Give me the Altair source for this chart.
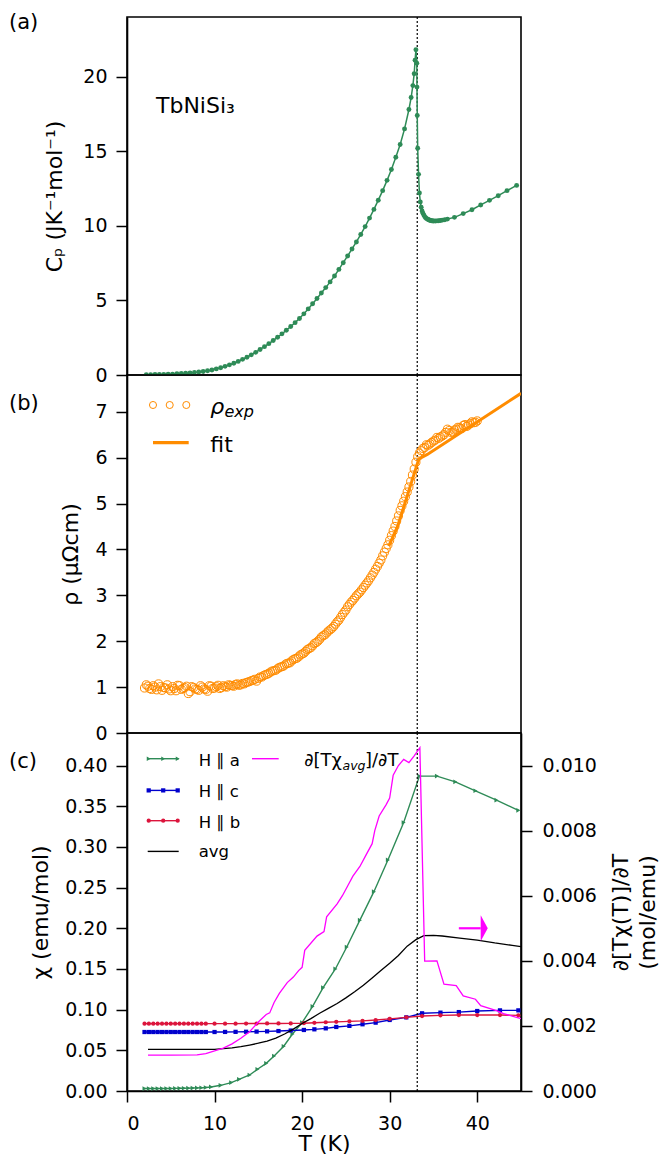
import altair as alt
import pandas as pd

FONT = "DejaVu Sans"
GREEN = "#2e8b57"
ORANGE = "#ff8c00"
BLUE = "#0000cd"
RED = "#dc143c"
MAG = "#ff00ff"
W, H = 394, 358

# ---------------- data ----------------
TN = [33.15]

cp_T = [2.2, 2.7, 3.2, 3.7, 4.2, 4.7, 5.2, 5.7, 6.2, 6.7, 7.2, 7.7, 8.2, 8.7, 9.2, 9.7,
        10.2, 10.7, 11.2, 11.7, 12.2, 12.7, 13.2, 13.7, 14.2, 14.7, 15.2, 15.7, 16.2, 16.7,
        17.2, 17.7, 18.2, 18.7, 19.2, 19.7, 20.2, 20.7, 21.2, 21.7, 22.2, 22.7, 23.2, 23.7,
        24.2, 24.7, 25.2, 25.7, 26.2, 26.7, 27.2, 27.7, 28.2, 28.7, 29.2, 29.7, 30.2, 30.7,
        31.2, 31.7, 32.2, 32.45, 32.65, 32.8, 32.9, 33.0,
        33.1, 33.12, 33.15, 33.2, 33.3, 33.4, 33.5, 33.6, 33.7, 33.8, 33.9, 34.0, 34.1,
        34.2, 34.3, 34.4, 34.5, 34.6, 34.7, 34.8, 34.9, 35.0, 35.2, 35.4, 35.6, 35.8,
        36.0, 36.3, 36.6, 37.4, 38.4, 39.4, 40.4, 41.4, 42.4, 43.4, 44.5]
cp_val = [0.02, 0.02, 0.03, 0.03, 0.04, 0.05, 0.06, 0.08, 0.10, 0.12, 0.14, 0.17, 0.20, 0.23, 0.28, 0.34,
          0.41, 0.49, 0.58, 0.68, 0.79, 0.91, 1.05, 1.19, 1.35, 1.52, 1.71, 1.90, 2.10, 2.31,
          2.53, 2.76, 3.00, 3.25, 3.51, 3.79, 4.10, 4.43, 4.78, 5.13, 5.50, 5.86, 6.24, 6.64,
          7.08, 7.53, 7.98, 8.45, 8.92, 9.42, 9.95, 10.52, 11.10, 11.72, 12.36, 13.05, 13.78, 14.60,
          15.45, 16.50, 17.80, 18.60, 19.40, 20.20, 21.10, 21.80,
          20.90, 19.30, 17.40, 15.20, 13.45, 12.20, 11.60, 11.25, 11.00, 10.85, 10.72, 10.62, 10.55,
          10.50, 10.45, 10.42, 10.39, 10.37, 10.35, 10.34, 10.33, 10.32, 10.32, 10.33, 10.34, 10.36,
          10.38, 10.41, 10.45, 10.57, 10.82, 11.08, 11.40, 11.71, 12.02, 12.36, 12.71]

rho_T = [2.0, 2.4, 2.8, 3.2, 3.6, 4.0, 4.4, 4.8, 5.2, 5.6, 6.0, 6.4, 6.8, 7.2, 7.6, 8.0,
         8.4, 8.8, 9.2, 9.6, 10.0, 10.4, 10.8, 11.2, 11.6, 12.0, 12.4, 12.8, 13.2, 13.6,
         14.0, 14.4, 14.8, 15.2, 15.6, 16.0, 16.4, 16.8, 17.2, 17.6, 18.0, 18.4, 18.8, 19.2,
         19.6, 20.0, 20.4, 20.8, 21.2, 21.6, 22.0, 22.4, 22.8, 23.2, 23.6, 24.0, 24.4, 24.8,
         25.2, 25.6, 26.0, 26.4, 26.8, 27.2, 27.6, 28.0, 28.4, 28.8, 29.2, 29.6, 30.0, 30.4,
         30.8, 31.2, 31.6, 32.0, 32.4, 32.8, 33.2, 33.6, 34.0, 34.4, 34.8, 35.2, 35.6, 36.0,
         36.4, 36.8, 37.2, 37.6, 38.0, 38.4, 38.8, 39.2, 39.6, 40.0]
rho_val = [0.98, 1.02, 0.95, 1.00, 1.07, 0.93, 0.98, 0.96, 1.01, 0.92, 1.03, 0.97, 1.02, 0.90, 0.99, 0.95,
           1.03, 0.96, 0.91, 1.02, 0.98, 1.04, 0.99, 1.01, 1.05, 1.03, 1.06, 1.04, 1.08, 1.10,
           1.12, 1.15, 1.13, 1.22, 1.25, 1.28, 1.33, 1.36, 1.40, 1.44, 1.48, 1.52, 1.57, 1.62,
           1.66, 1.72, 1.78, 1.84, 1.90, 1.97, 2.04, 2.12, 2.18, 2.25, 2.32, 2.42, 2.52, 2.63,
           2.75, 2.85, 2.94, 3.03, 3.12, 3.22, 3.32, 3.44, 3.57, 3.70, 3.86, 4.02, 4.20, 4.40,
           4.62, 4.85, 5.05, 5.25, 5.48, 5.75, 6.02, 6.15, 6.22, 6.27, 6.33, 6.38, 6.42, 6.47,
           6.55, 6.59, 6.56, 6.62, 6.65, 6.70, 6.68, 6.74, 6.76, 6.80]
rho_T_b = [2.2, 2.6, 3.0, 3.4, 3.8, 4.2, 4.6, 5.0, 5.4, 5.8, 6.2, 6.6, 7.0, 7.4, 7.8, 8.2,
           8.6, 9.0, 9.4, 9.8, 10.2, 10.6, 11.0, 11.4, 11.8, 12.2, 12.6, 13.0, 13.4, 13.8,
           14.2, 14.6, 15.0, 15.4, 15.8, 16.2, 16.6, 17.0, 17.4, 17.8, 18.2, 18.6, 19.0, 19.4,
           19.8, 20.2, 20.6, 21.0, 21.4, 21.8, 22.2, 22.6, 23.0, 23.4, 23.8, 24.2, 24.6, 25.0,
           25.4, 25.8, 26.2, 26.6, 27.0, 27.4, 27.8, 28.2, 28.6, 29.0, 29.4, 29.8, 30.2, 30.6,
           31.0, 31.4, 31.8, 32.2, 32.6, 33.0, 33.4, 33.8, 34.2, 34.6, 35.0, 35.4, 35.8, 36.2,
           36.6, 37.0, 37.4, 37.8, 38.2, 38.6, 39.0, 39.4, 39.8]
rho_val_b = [1.05, 0.97, 1.03, 0.94, 1.01, 0.99, 1.05, 0.92, 0.97, 1.04, 0.95, 0.99, 0.86, 1.01, 0.96, 0.93,
             1.00, 0.95, 1.03, 0.97, 1.01, 0.97, 1.03, 1.00, 1.04, 1.02, 1.07, 1.05, 1.07, 1.11,
             1.14, 1.17, 1.19, 1.22, 1.27, 1.30, 1.35, 1.37, 1.43, 1.45, 1.51, 1.53, 1.60, 1.63,
             1.70, 1.74, 1.82, 1.86, 1.95, 2.00, 2.09, 2.14, 2.22, 2.28, 2.37, 2.46, 2.58, 2.68,
             2.80, 2.89, 2.99, 3.07, 3.17, 3.27, 3.38, 3.50, 3.63, 3.77, 3.94, 4.10, 4.30, 4.50,
             4.73, 4.95, 5.15, 5.36, 5.62, 5.90, 6.10, 6.20, 6.28, 6.30, 6.36, 6.44, 6.45, 6.50,
             6.62, 6.55, 6.60, 6.66, 6.63, 6.72, 6.71, 6.78, 6.77]

fit_T = [29.9, 30.9, 32.0, 32.95, 33.33, 34.3, 45.0]
fit_val = [4.07, 4.50, 5.16, 5.74, 5.97, 6.07, 7.40]

chi_a_T = [2.0, 2.5, 3.0, 3.5, 4.0, 4.5, 5.0, 5.5, 6.0, 6.5, 7.0, 7.5, 8.0, 8.5, 9.0, 9.6,
           10.7, 11.9, 12.8, 14.0, 14.9, 15.9, 16.8, 17.9, 18.9, 20.0, 21.2, 22.4, 23.8,
           25.1, 26.6, 28.2, 29.8, 31.6, 33.4, 35.4, 37.5, 39.8, 42.2, 44.7]
chi_a = [0.0030, 0.0030, 0.0030, 0.0030, 0.0030, 0.0031, 0.0031, 0.0032, 0.0033, 0.0034, 0.0035,
         0.0036, 0.0038, 0.0040, 0.0043, 0.0050, 0.0070, 0.0103, 0.0144, 0.0197, 0.0267, 0.0340,
         0.0430, 0.0550, 0.0700, 0.0840, 0.1040, 0.1270, 0.1500, 0.1770, 0.2100, 0.2450, 0.2840,
         0.3300, 0.3870, 0.3870, 0.3800, 0.3690, 0.3575, 0.3450]

chi_cb_T = [2.0, 2.5, 3.0, 3.5, 4.0, 4.5, 5.0, 5.5, 6.0, 6.5, 7.0, 7.5, 8.0, 8.5, 9.0,
            10.0, 11.2, 12.4, 13.6, 14.8, 16.0, 17.3, 18.7, 20.2, 21.4, 22.7, 23.9, 25.4,
            26.9, 28.4, 30.0, 31.9, 33.7, 35.8, 37.9, 40.0, 42.6, 44.7]
chi_c = [0.0725, 0.0725, 0.0725, 0.0725, 0.0725, 0.0725, 0.0725, 0.0725, 0.0725, 0.0725, 0.0725,
         0.0725, 0.0725, 0.0725, 0.0725, 0.0725, 0.0726, 0.0727, 0.0728, 0.0730, 0.0733, 0.0737,
         0.0743, 0.0750, 0.0758, 0.0770, 0.0787, 0.0800, 0.0820, 0.0840, 0.0873, 0.0905, 0.0955,
         0.0963, 0.0970, 0.0983, 0.0991, 0.0991]
chi_b = [0.0828, 0.0828, 0.0828, 0.0828, 0.0828, 0.0828, 0.0828, 0.0828, 0.0828, 0.0828, 0.0828,
         0.0828, 0.0828, 0.0828, 0.0828, 0.0828, 0.0828, 0.0828, 0.0829, 0.0829, 0.0830, 0.0830,
         0.0831, 0.0833, 0.0838, 0.0845, 0.0850, 0.0856, 0.0862, 0.0872, 0.0887, 0.0905, 0.0921,
         0.0930, 0.0934, 0.0934, 0.0934, 0.0930]

avg_T = [2.4, 4.0, 6.0, 8.0, 10.0, 11.0, 12.0, 13.0, 14.0, 15.0, 16.0, 17.0, 18.0, 19.0, 20.0,
         21.0, 22.0, 23.0, 24.0, 25.0, 26.0, 27.0, 28.0, 29.0, 30.0, 31.0, 32.0, 33.0, 33.9,
         35.0, 36.0, 38.0, 40.0, 42.0, 44.0, 45.0]
avg = [0.0512, 0.0512, 0.0512, 0.0512, 0.0512, 0.0520, 0.0530, 0.0545, 0.0565, 0.0587, 0.0614,
       0.0650, 0.0700, 0.0760, 0.0830, 0.0890, 0.0955, 0.1015, 0.1075, 0.1145, 0.1220, 0.1300,
       0.1390, 0.1480, 0.1570, 0.1665, 0.1780, 0.1860, 0.1910, 0.1912, 0.1905, 0.1880, 0.1855,
       0.1820, 0.1790, 0.1775]

dchi_T = [2.4, 5.0, 8.0, 9.0, 10.0, 11.0, 12.0, 13.0, 14.0, 15.0, 15.9, 16.3, 16.8, 17.4, 18.3,
          19.0, 19.6, 20.0, 20.3, 21.7, 22.5, 22.8, 24.0, 24.6, 25.2, 25.8, 26.6, 27.2, 28.0,
          28.3, 28.8, 29.6, 30.0, 30.4, 31.0, 31.6, 32.2, 32.8, 33.45, 34.0, 35.4, 36.2, 37.6,
          38.4, 39.8, 40.4, 42.2, 43.0, 45.0]
dchi = [0.00110, 0.00110, 0.00111, 0.00115, 0.00123, 0.00132, 0.00145, 0.00162, 0.00182, 0.00212,
        0.00235, 0.00240, 0.00272, 0.00300, 0.00333, 0.00350, 0.00370, 0.00380, 0.00432, 0.00476,
        0.00490, 0.00535, 0.00575, 0.00600, 0.00630, 0.00660, 0.00690, 0.00720, 0.00760, 0.00800,
        0.00845, 0.00880, 0.00900, 0.00970, 0.01000, 0.01019, 0.01009, 0.01030, 0.01055, 0.00399,
        0.00400, 0.00328, 0.00324, 0.00292, 0.00282, 0.00262, 0.00247, 0.00238, 0.00222]

arrow_T0 = [37.9]
arrow_T1 = [40.4]
arrow_head_T = [40.8]
arrow_y = [0.2]

# ---------------- frames ----------------
cp_df = pd.DataFrame({"T": cp_T, "v": cp_val})
rho_df = pd.DataFrame({"T": rho_T + rho_T_b, "v": rho_val + rho_val_b})
fit_df = pd.DataFrame({"T": fit_T, "v": fit_val})
a_df = pd.DataFrame({"T": chi_a_T, "v": chi_a})
c_df = pd.DataFrame({"T": chi_cb_T, "v": chi_c})
b_df = pd.DataFrame({"T": chi_cb_T, "v": chi_b})
avg_df = pd.DataFrame({"T": avg_T, "v": avg})
d_df = pd.DataFrame({"T": dchi_T, "d": dchi})
tn_df = pd.DataFrame({"T": TN})
arr_df = pd.DataFrame({"T": arrow_T0, "T2": arrow_T1, "v": arrow_y})
head_df = pd.DataFrame({"T": arrow_head_T, "v": arrow_y})
one = pd.DataFrame({"z": [0]})

xs = alt.Scale(domain=[0, 45], nice=False, zero=False)


def X(axis=None):
    return alt.X("T:Q", scale=xs, axis=axis)


def txt(s, x, y, size=16.5, align="left", baseline="alphabetic", style="normal", color="black"):
    return alt.Chart(one).mark_text(text=s, font=FONT, fontSize=size, align=align,
                                    baseline=baseline, fontStyle=style, color=color).encode(
        x=alt.value(x), y=alt.value(y))


def tn_rule(axis=None):
    return alt.Chart(tn_df).mark_rule(color="black", strokeDash=[2, 2], strokeWidth=1.2).encode(x=X(axis))


# ---------------- panel (a) ----------------
ya = alt.Y("v:Q", scale=alt.Scale(domain=[0, 24], nice=False),
           axis=alt.Axis(values=[0, 5, 10, 15, 20], format="d", title="Cₚ (JK⁻¹mol⁻¹)", titlePadding=16))
cp_line = alt.Chart(cp_df).mark_line(
    color=GREEN, strokeWidth=1.5, clip=True,
    point=alt.OverlayMarkDef(filled=True, size=24, color=GREEN, opacity=1)
).encode(x=X(), y=ya)
panel_a = alt.layer(
    tn_rule(), cp_line,
    txt("(a)", -118, 6, size=21, baseline="middle"),
    txt("TbNiSi₃", 29, 96, size=22),
).properties(width=W, height=H)

# ---------------- panel (b) ----------------
yb = alt.Y("v:Q", scale=alt.Scale(domain=[0, 7.8], nice=False),
           axis=alt.Axis(values=[0, 1, 2, 3, 4, 5, 6, 7], format="d", title="ρ (μΩcm)", titlePadding=12))
rho_pts = alt.Chart(rho_df).mark_point(shape="circle", filled=False, color=ORANGE, size=66,
                                       strokeWidth=1, opacity=1, clip=True).encode(x=X(), y=yb)
fit_line = alt.Chart(fit_df).mark_line(color=ORANGE, strokeWidth=3, clip=True).encode(x=X(), y=yb)
leg_b = [
    alt.Chart(one).mark_point(shape="circle", filled=False, color=ORANGE, size=50, strokeWidth=1,
                              opacity=1).encode(x=alt.value(px), y=alt.value(30))
    for px in (26, 42.7, 59.3)
] + [
    alt.Chart(one).mark_rule(color=ORANGE, strokeWidth=3.3).encode(
        x=alt.value(26), x2=alt.value(61.7), y=alt.value(67.6)),
    txt("ρ", 83.3, 38.6, size=22, style="italic"),
    txt("exp", 97.5, 41.5, size=16, style="italic"),
    txt("fit", 83.3, 77, size=22),
]
panel_b = alt.layer(
    tn_rule(), rho_pts, fit_line, *leg_b,
    txt("(b)", -118, 29.3, size=21, baseline="middle"),
).properties(width=W, height=H)

# ---------------- panel (c) ----------------
xc_axis = alt.Axis(values=[0, 10, 20, 30, 40], format="d", title="T (K)", labelPadding=12, titlePadding=0)
yc = alt.Y("v:Q", scale=alt.Scale(domain=[0, 0.44], nice=False),
           axis=alt.Axis(values=[0, 0.05, 0.1, 0.15, 0.2, 0.25, 0.3, 0.35, 0.4], format=".2f",
                         title="χ (emu/mol)", titlePadding=12))

green_l = alt.Chart(a_df).mark_line(
    color=GREEN, strokeWidth=1.4, clip=True,
    point=alt.OverlayMarkDef(shape="triangle-right", filled=True, size=22, color=GREEN, opacity=1)
).encode(x=X(xc_axis), y=yc)
blue_l = alt.Chart(c_df).mark_line(
    color=BLUE, strokeWidth=1.4, clip=True,
    point=alt.OverlayMarkDef(shape="square", filled=True, size=18, color=BLUE, opacity=1)
).encode(x=X(xc_axis), y=yc)
red_l = alt.Chart(b_df).mark_line(
    color=RED, strokeWidth=1.4, clip=True,
    point=alt.OverlayMarkDef(shape="circle", filled=True, size=18, color=RED, opacity=1)
).encode(x=X(xc_axis), y=yc)
avg_l = alt.Chart(avg_df).mark_line(color="black", strokeWidth=1.3, clip=True).encode(x=X(xc_axis), y=yc)
arrow_shaft = alt.Chart(arr_df).mark_rule(color=MAG, strokeWidth=2.2).encode(
    x=X(xc_axis), x2="T2:Q", y=yc)
arrow_head = alt.Chart(head_df).mark_point(
    shape="M-0.27,-1L0.27,0L-0.27,1Z", filled=True, color=MAG, size=676, opacity=1, strokeWidth=0
).encode(x=X(xc_axis), y=yc)

left_layers = alt.layer(green_l, blue_l, red_l, avg_l, arrow_shaft, arrow_head, tn_rule(xc_axis))

deriv = alt.Chart(d_df).mark_line(color=MAG, strokeWidth=1.3, clip=True).encode(
    x=X(xc_axis),
    y=alt.Y("d:Q", scale=alt.Scale(domain=[0, 0.011], nice=False),
            axis=alt.Axis(orient="right", values=[0, 0.002, 0.004, 0.006, 0.008, 0.01], format=".3f",
                          title=["∂[Tχ(T)]/∂T", "(mol/emu)"], titleAngle=270, titleBaseline="top",
                          titleAlign="center", titleX=89, titleY=179,
                          titleLineHeight=27, labelPadding=10)))


def leg_line(color, y, shape=None, size=18):
    parts = [alt.Chart(one).mark_rule(color=color, strokeWidth=1.4).encode(
        x=alt.value(20.7), x2=alt.value(51.7), y=alt.value(y))]
    if shape:
        for px in (21.7, 36.2, 50.7):
            parts.append(alt.Chart(one).mark_point(shape=shape, filled=True, color=color, size=size,
                                                   opacity=1).encode(x=alt.value(px), y=alt.value(y)))
    return parts


leg_c = (leg_line(GREEN, 25.7, "triangle-right", 20) + leg_line(BLUE, 57.4, "square", 18)
         + leg_line(RED, 87.7, "circle", 18) + leg_line("black", 118.4)
         + [txt("H ∥ a", 71.7, 33.4), txt("H ∥ c", 71.7, 64), txt("H ∥ b", 71.7, 95),
            txt("avg", 71.7, 123.7),
            alt.Chart(one).mark_rule(color=MAG, strokeWidth=1.4).encode(
                x=alt.value(125), x2=alt.value(151.7), y=alt.value(25.7)),
            txt("∂[Tχ", 215, 33.4, size=18, align="right"),
            txt("avg", 215.5, 37, size=12.5, style="italic"),
            txt("]/∂T", 238, 33.4, size=18)])

panel_c = alt.layer(
    left_layers, deriv, *leg_c,
    txt("(c)", -118, 29.2, size=21, baseline="middle"),
).resolve_scale(y="independent").properties(width=W, height=H)

chart = alt.vconcat(panel_a, panel_b, panel_c, spacing=0, bounds="flush").properties(
    padding={"left": 8, "top": 11, "right": 0, "bottom": 0}
).configure(font=FONT, background="white").configure_view(
    stroke="black", strokeWidth=1.6
).configure_axis(
    labelFont=FONT, titleFont=FONT, labelFontSize=19, titleFontSize=22, labelColor="black",
    titleColor="black", tickColor="black", domainColor="black", tickSize=11, tickWidth=1.5,
    domainWidth=1.6, grid=False, titleFontWeight="normal", labelPadding=9
)

chart.save("out.html", embed_options={"renderer": "svg", "actions": False})
